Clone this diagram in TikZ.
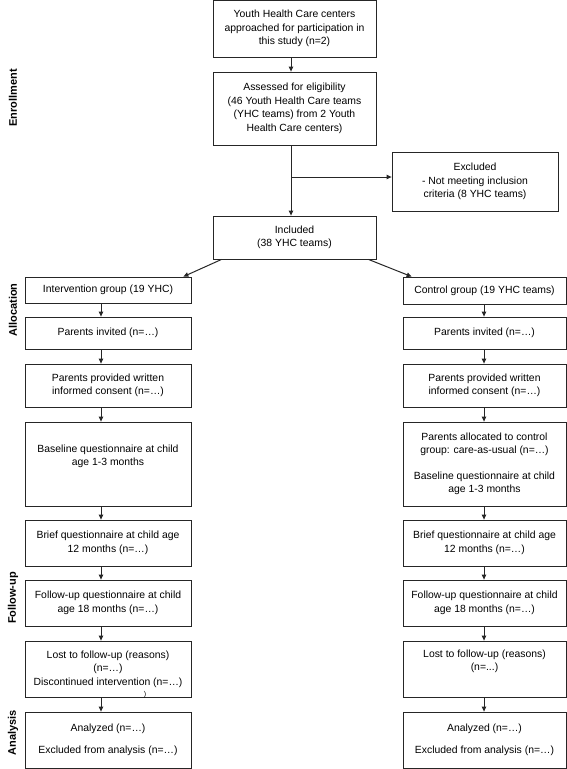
\documentclass[tikz,border=0pt]{standalone}
\usepackage{fontspec}
\setmainfont{Liberation Sans}
\usetikzlibrary{arrows.meta,calc}
\begin{document}
\begin{tikzpicture}[x=1pt,y=-1pt,
  box/.style={draw=black!85,line width=0.8pt,align=center,inner sep=0pt,
    font=\fontsize{10.4}{13.5}\selectfont},
  arr/.style={line width=1pt,draw=black!85,-{Triangle[length=5pt,width=4.5pt]}},
  side/.style={rotate=90,font=\fontsize{11}{13}\selectfont\bfseries}]
\useasboundingbox (0,0) rectangle (567,769);
% box helper: left x, right x, top y, bottom y
\newcommand{\mybox}[6][]{%
  \node[box,#1,minimum width={#4-#3},minimum height={#6-#5}] (#2) at ({(#3+#4)/2},{(#5+#6)/2})}
\mybox{top}{213}{376}{0.5}{57} {Youth Health Care centers\\approached for participation in\\this study (n=2)};
\mybox{assess}{213}{376}{72}{145} {Assessed for eligibility\\(46 Youth Health Care teams\\(YHC teams) from 2 Youth\\Health Care centers)};
\mybox{excl}{392}{558}{152}{211} {Excluded\\- Not meeting inclusion\\criteria (8 YHC teams)};
\mybox{incl}{213}{376}{216}{259} {Included\\(38 YHC teams)};
% left column
\mybox{L1}{25}{191}{277}{303} {Intervention group (19 YHC)};
\mybox{L2}{25}{191}{317}{349} {Parents invited (n=\dots)};
\mybox{L3}{25}{191}{364}{407} {Parents provided written\\informed consent (n=\dots)};
\mybox{L4}{25}{191}{422}{506} {Baseline questionnaire at child\\age 1-3 months\\\strut};
\mybox{L5}{25}{191}{520}{566} {Brief questionnaire at child age\\12 months (n=\dots)};
\mybox{L6}{25}{191}{580}{626} {Follow-up questionnaire at child\\age 18 months (n=\dots)};
\mybox{L7}{25}{191}{641}{697} {Lost to follow-up (reasons)\\(n=\dots)\\Discontinued intervention (n=\dots)};
\mybox{L8}{25}{191}{712}{768} {Analyzed (n=\dots)\\[9pt]Excluded from analysis (n=\dots)};
% right column
\mybox{R1}{403}{566}{277}{304} {Control group (19 YHC teams)};
\mybox{R2}{403}{566}{317}{349} {Parents invited (n=\dots)};
\mybox{R3}{403}{566}{364}{407} {Parents provided written\\informed consent (n=\dots)};
\mybox{R4}{403}{566}{422}{506} {Parents allocated to control\\group: care-as-usual (n=\dots)\\[12pt]Baseline questionnaire at child\\age 1-3 months};
\mybox{R5}{403}{566}{520}{566} {Brief questionnaire at child age\\12 months (n=\dots)};
\mybox{R6}{403}{566}{580}{626} {Follow-up questionnaire at child\\age 18 months (n=\dots)};
\mybox{R7}{403}{566}{641}{697} {Lost to follow-up (reasons)\\(n=...)\\\strut};
\mybox{R8}{403}{566}{712}{768} {Analyzed (n=\dots)\\[9pt]Excluded from analysis (n=\dots)};
% stray parenthesis
\node[font=\fontsize{7}{8}\selectfont,inner sep=0pt] (stray) at (145,695) {)};
% side labels
\node[side] (enr) at (13,98) {Enrollment};
\node[side] (alloc) at (13,310) {Allocation};
\node[side] (fu) at (13,598) {Follow-up};
\node[side] (ana) at (13,733) {Analysis};
% connector x positions
\coordinate (cx) at (291,0);
\coordinate (lx) at (101,0);
\coordinate (rx) at (484,0);
\coordinate (br) at (291,177);
\draw[arr] (top.south -| cx) -- (assess.north -| cx);
\draw[arr] (assess.south -| cx) -- (incl.north -| cx);
\draw[arr] (br) -- (br -| excl.west);
\draw[arr] ($(incl.south west)+(9,0)$) -- ($(L1.north east)+(-8,0)$);
\draw[arr] ($(incl.south east)+(-8,0)$) -- ($(R1.north west)+(9,0)$);
\foreach \a/\b in {L1/L2,L2/L3,L3/L4,L4/L5,L5/L6,L6/L7,L7/L8}
  \draw[arr] (\a.south -| lx) -- (\b.north -| lx);
\foreach \a/\b in {R1/R2,R2/R3,R3/R4,R4/R5,R5/R6,R6/R7,R7/R8}
  \draw[arr] (\a.south -| rx) -- (\b.north -| rx);
\end{tikzpicture}
\end{document}
